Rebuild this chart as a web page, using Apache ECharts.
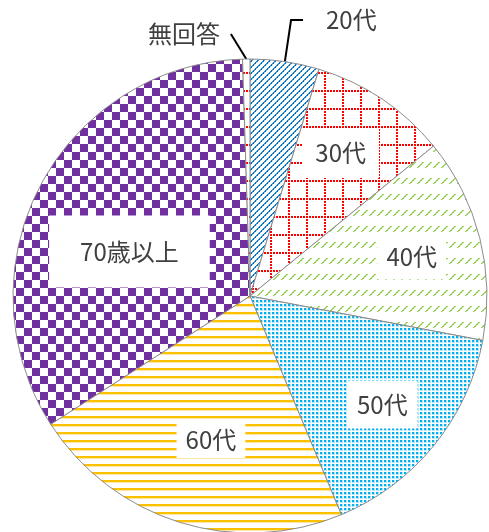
<!DOCTYPE html>
<html>
<head>
<meta charset="utf-8">
<script src="https://cdn.jsdelivr.net/npm/echarts@6/dist/echarts.min.js"></script>
<style>
  html, body { margin: 0; padding: 0; background: #ffffff; }
  #chart { width: 489px; height: 532px; }
</style>
</head>
<body>
<div id="chart"></div>
<script>
// Age groups and their share of respondents (%)
const categories = ['20代', '30代', '40代', '50代', '60代', '70歳以上', '無回答'];
const shares = [4.7, 9.4, 13.9, 15.7, 22.2, 33.6, 0.5];

// ---- hatch fills, painted on small repeating tiles ----
function tile(w, h, draw) {
  const c = document.createElement('canvas');
  c.width = w; c.height = h;
  const g = c.getContext('2d');
  g.fillStyle = '#ffffff';
  g.fillRect(0, 0, w, h);
  draw(g, w, h);
  return c;
}

// dotted upward diagonal (blue)
const diagBlue = tile(6, 6, (g) => {
  for (let i = 0; i < 6; i++) {
    g.fillStyle = i % 2 ? '#0070C0' : '#2f86cc';
    g.fillRect(i, 5 - i, 1, 1);
    g.fillStyle = i % 2 ? '#6aaee0' : '#0070C0';
    g.fillRect((i + 1) % 6, 5 - i, 1, 1);
  }
});

// dotted large grid (red)
const gridRed = tile(18, 18, (g) => {
  g.fillStyle = '#FF0000';
  for (let k = 0; k < 18; k += 3) {
    g.fillRect(0, k, 2, 2);
    g.fillRect(k, 0, 2, 2);
  }
});

// dashed upward diagonal (green)
const dashGreen = tile(8, 16, (g) => {
  for (let i = 0; i < 6; i++) {
    g.fillStyle = '#92D050';
    g.fillRect(1 + i, 7 - i, 1, 1);
    g.fillStyle = i % 2 ? '#92D050' : '#b5df8c';
    g.fillRect(2 + i, 7 - i, 1, 1);
  }
});

// small dots (light blue)
const dotsBlue = tile(4, 4, (g) => {
  g.fillStyle = '#b3e8fb';
  g.fillRect(0, 0, 3, 3);
  g.fillStyle = '#00B0F0';
  g.fillRect(0, 0, 2, 2);
});

// horizontal stripes (gold)
const stripesGold = tile(8, 8, (g) => {
  g.fillStyle = '#FFC000';
  g.fillRect(0, 0, 8, 2);
  g.fillStyle = '#ffe7a3';
  g.fillRect(0, 2, 8, 1);
});

// checkerboard (purple)
const checkPurple = tile(16, 16, (g) => {
  g.fillStyle = '#7030A0';
  g.fillRect(0, 0, 8, 8);
  g.fillRect(8, 8, 8, 8);
});

const fills = [diagBlue, gridRed, dashGreen, dotsBlue, stripesGold, checkPurple, gridRed];

// white label boxes inside the slices: padding and nudge from the default spot
const boxPadding = [null, [13, 13], [10, 9], [12, 10], [6, 9], [24, 31], null];
const nudge = [null, [23, -42], [44, -9], [38, 32], [-3, 28], [-13, 12], null];

const chart = echarts.init(document.getElementById('chart'), null, { renderer: 'canvas' });

const data = categories.map((name, i) => {
  const item = {
    name: name,
    value: shares[i],
    itemStyle: { color: { image: fills[i], repeat: 'repeat' } }
  };
  if (name === '20代') {
    item.label = {
      position: 'outside',
      backgroundColor: 'transparent',
      padding: [8, 0, 0, 0],
      distanceToLabelLine: 23
    };
    item.labelLine = { show: true, length: 42, length2: 12, lineStyle: { color: '#000000', width: 2 } };
  } else if (name === '無回答') {
    item.label = {
      position: 'outside',
      backgroundColor: 'transparent',
      padding: [0, 11, 24, 0],
      distanceToLabelLine: 15
    };
    item.labelLine = { show: true, length: 25, length2: 0, lineStyle: { color: '#000000', width: 2 } };
  } else {
    item.label = { position: 'inside', padding: boxPadding[i] };
  }
  return item;
});

chart.setOption({
  animation: false,
  backgroundColor: '#ffffff',
  series: [{
    type: 'pie',
    center: [250, 296],
    radius: 237,
    startAngle: 90,
    clockwise: true,
    avoidLabelOverlap: false,
    itemStyle: { borderColor: '#8c8c8c', borderWidth: 1 },
    label: {
      show: true,
      formatter: '{b}',
      color: '#404040',
      fontSize: 24,
      fontFamily: 'Noto Sans CJK JP',
      backgroundColor: '#ffffff'
    },
    emphasis: { disabled: true },
    labelLayout: function (p) {
      const r = p.labelRect;
      if (categories[p.dataIndex] === '無回答') {
        // keep the spot, let the leader run straight from the slice to the label
        return { x: r.x + r.width, y: r.y + r.height / 2 };
      }
      const n = nudge[p.dataIndex];
      if (!n) return {};
      return { x: r.x + r.width / 2 + n[0], y: r.y + r.height / 2 + n[1] };
    },
    data: data
  }]
});
</script>
</body>
</html>
